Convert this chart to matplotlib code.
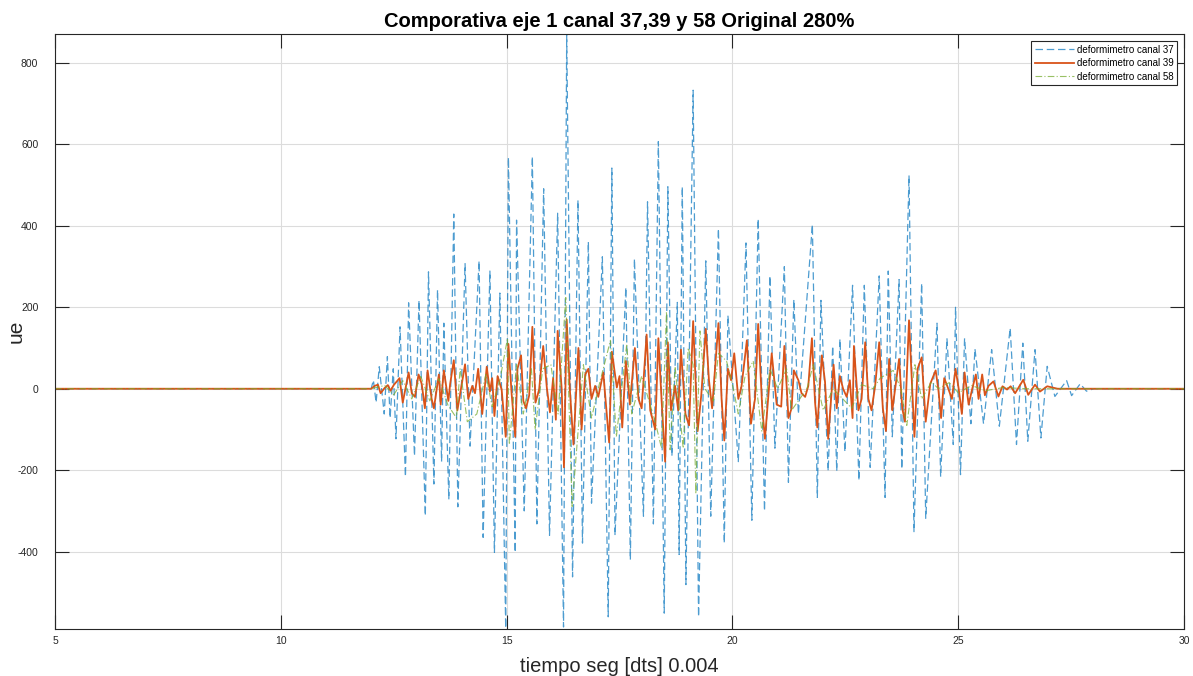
import matplotlib
matplotlib.use("Agg")
import matplotlib.pyplot as plt

plt.rcParams['font.family'] = ['Liberation Sans', 'DejaVu Sans']
plt.rcParams['axes.unicode_minus'] = False

# Strain readings (microstrain) per channel: time [s] and value at each turning point
t37 = [5.0, 12.0, 12.05, 12.11, 12.18, 12.29, 12.36, 12.42, 12.49, 12.55, 12.64, 12.76, 12.83, 12.96,
       13.06, 13.2, 13.27, 13.39, 13.47, 13.56, 13.61, 13.72, 13.83, 13.92, 14.08, 14.19, 14.39, 14.48,
       14.63, 14.73, 14.85, 14.98, 15.04, 15.19, 15.22, 15.39, 15.57, 15.67, 15.82, 15.95, 16.13, 16.26,
       16.33, 16.46, 16.58, 16.68, 16.81, 16.88, 17.12, 17.25, 17.33, 17.4, 17.64, 17.74, 17.83, 18.03,
       18.12, 18.25, 18.36, 18.49, 18.57, 18.66, 18.78, 18.82, 18.89, 18.97, 19.13, 19.25, 19.41, 19.52,
       19.69, 19.82, 19.9, 20.13, 20.3, 20.43, 20.57, 20.71, 20.83, 20.94, 21.15, 21.24, 21.36, 21.46,
       21.77, 21.88, 21.96, 22.12, 22.22, 22.31, 22.38, 22.49, 22.66, 22.8, 22.92, 23.05, 23.25, 23.38,
       23.45, 23.54, 23.69, 23.75, 23.91, 24.02, 24.19, 24.28, 24.53, 24.61, 24.75, 24.89, 24.94, 25.05,
       25.14, 25.28, 25.37, 25.56, 25.74, 25.91, 26.15, 26.29, 26.43, 26.54, 26.7, 26.83, 26.97, 27.14,
       27.4, 27.51, 27.7, 27.84, 28.0, 30.0]
v37 = [0, 0, 21, -34, 54, -62, 79, -72, 49, -123, 152, -216, 211, -165,
       217, -312, 287, -234, 243, -179, 161, -272, 429, -290, 307, -141, 314, -365,
       289, -402, 235, -588, 568, -402, 414, -300, 570, -332, 491, -360, 431, -585,
       868, -462, 463, -379, 361, -281, 324, -560, 542, -360, 249, -420, 319, -313,
       459, -332, 607, -551, 496, -165, 212, -407, 496, -481, 733, -560, 314, -313,
       393, -379, 180, -179, 358, -323, 417, -300, 277, -146, 300, -230, 219, -62,
       403, -267, 217, -202, 105, -202, 122, -155, 254, -225, 254, -193, 277, -267,
       289, -118, 268, -197, 524, -351, 259, -318, 161, -216, 124, -137, 200, -211,
       124, -86, 98, -86, 96, -92, 149, -137, 112, -129, 96, -121, 55, -19,
       20, -17, 12, -6, 0, 0]

t39 = [5.0, 12.0, 12.08, 12.15, 12.21, 12.3, 12.37, 12.43, 12.5, 12.63, 12.7, 12.83, 12.9, 12.97,
       13.05, 13.12, 13.19, 13.25, 13.34, 13.39, 13.5, 13.54, 13.61, 13.71, 13.75, 13.83, 13.91, 14.08,
       14.15, 14.24, 14.3, 14.37, 14.46, 14.56, 14.63, 14.68, 14.73, 14.8, 14.89, 14.98, 15.04, 15.11,
       15.19, 15.24, 15.32, 15.37, 15.43, 15.5, 15.57, 15.64, 15.72, 15.81, 15.89, 15.96, 16.03, 16.09,
       16.13, 16.22, 16.27, 16.33, 16.4, 16.48, 16.59, 16.66, 16.74, 16.81, 16.88, 16.96, 17.03, 17.14,
       17.27, 17.33, 17.44, 17.5, 17.56, 17.64, 17.73, 17.84, 17.92, 17.99, 18.1, 18.18, 18.29, 18.36,
       18.43, 18.51, 18.57, 18.64, 18.73, 18.8, 18.86, 18.96, 19.04, 19.13, 19.23, 19.31, 19.41, 19.48,
       19.55, 19.69, 19.76, 19.82, 19.9, 19.97, 20.04, 20.13, 20.2, 20.32, 20.41, 20.5, 20.57, 20.66,
       20.72, 20.8, 20.87, 20.98, 21.08, 21.15, 21.24, 21.31, 21.36, 21.46, 21.53, 21.61, 21.68, 21.76,
       21.83, 21.88, 21.98, 22.05, 22.12, 22.24, 22.31, 22.38, 22.45, 22.53, 22.6, 22.66, 22.69, 22.79,
       22.86, 22.94, 23.01, 23.08, 23.16, 23.25, 23.33, 23.4, 23.47, 23.54, 23.6, 23.69, 23.76, 23.82,
       23.91, 24.03, 24.1, 24.19, 24.28, 24.38, 24.5, 24.56, 24.62, 24.69, 24.78, 24.86, 24.94, 25.01,
       25.08, 25.14, 25.23, 25.31, 25.39, 25.45, 25.53, 25.59, 25.67, 25.78, 25.89, 25.98, 26.08, 26.16,
       26.26, 26.44, 26.55, 26.7, 26.81, 26.97, 27.2, 30.0]
v39 = [0, 0, 7, 10, -11, 2, 9, -5, 9, 26, -34, 40, -11, -20,
       35, 12, -48, 45, -25, -48, 35, -39, 45, -30, 12, 70, -53, 60,
       -25, 7, -11, 49, -62, 54, -7, 26, -67, 31, -2, -118, 110, -11,
       -118, 49, 82, -30, -48, -16, 152, -34, -2, 105, 3, -58, 26, -76,
       142, -2, -193, 170, -2, -137, 100, -100, 35, 49, -25, 7, -20, 40,
       -132, 91, 3, 31, -95, 68, -39, 100, -25, -48, 133, -53, -100, 124,
       -25, -179, 114, -53, 7, -53, 96, -62, -90, 166, -104, -16, 147, 21,
       -48, 161, -25, -127, 49, 21, 87, -25, 5, 119, -86, -25, 159, -48,
       -123, -11, 87, -39, -44, 105, -72, -48, 45, 21, -11, -20, 7, 124,
       -34, -95, 82, 17, -123, 59, -48, 31, 0, -20, 21, -72, 105, -53,
       -25, 114, -25, -53, 7, 114, -48, -104, 73, -53, -2, 73, -48, -81,
       168, -118, 49, 77, -81, 12, 45, -2, -72, 26, 0, -25, 49, 0,
       -62, 40, -39, 0, 35, -25, 35, -16, 7, 18, -19, 6, -2, 6,
       -11, 22, -15, 10, -7, 6, 0, 0]

t58 = [5.0, 12.0, 12.3, 12.5, 12.7, 12.9, 13.1, 13.3, 13.5, 13.7, 13.89, 13.97, 14.13, 14.34, 14.54,
       14.68, 14.85, 15.02, 15.06, 15.22, 15.37, 15.55, 15.63, 15.8, 15.98, 16.14, 16.31, 16.45, 16.7,
       16.88, 17.05, 17.3, 17.43, 17.66, 17.77, 17.99, 18.29, 18.43, 18.54, 18.62, 18.73, 18.91, 19.02,
       19.13, 19.19, 19.28, 19.39, 19.58, 19.69, 19.87, 20.02, 20.13, 20.28, 20.46, 20.65, 20.83, 21.0,
       21.2, 21.31, 21.65, 21.79, 22.01, 22.23, 22.64, 22.86, 23.12, 23.27, 23.56, 23.73, 23.86, 24.04,
       24.19, 24.41, 24.56, 24.8, 25.0, 25.3, 25.6, 26.0, 26.5, 30.0]
v58 = [0, 0, 8, -15, 20, -25, 30, -30, 25, -40, -72, 49, -81, -62, 35,
       -44, 20, 124, -137, 59, -62, 49, -100, 49, 59, -62, 224, -289, 59,
       -72, 10, 119, -118, 110, -62, 31, -81, -146, 189, -150, 54, -146, 100,
       59, -258, 142, 0, -30, 87, 68, 0, -62, 31, 68, -104, 49, 0,
       49, -53, 0, 59, -53, 0, -48, 10, 0, 26, 45, 0, -90, 59,
       -25, 17, 0, 15, -10, 8, -5, 3, 0, 0]

labels = ['deformimetro canal 37', 'deformimetro canal 39', 'deformimetro canal 58']
x_ticks = [5, 10, 15, 20, 25, 30]
y_ticks = [-400, -200, 0, 200, 400, 600, 800]

fig = plt.figure(figsize=(11.93, 6.76), dpi=100)
ax = fig.add_axes([0.0461, 0.0695, 0.9464, 0.8802])

ax.plot(t37, v37, linestyle=(0, (6, 3)), color='#0072BD', alpha=0.7, lw=0.9, label=labels[0])
ax.plot(t39, v39, linestyle='-', color='#D95319', lw=1.3, label=labels[1])
ax.plot(t58, v58, linestyle=(0, (6, 2, 1, 2)), color='#77AC30', alpha=0.75, lw=0.8, label=labels[2])

ax.set_xlim(5, 30)
ax.set_ylim(-590, 871)
ax.set_xticks(x_ticks)
ax.set_yticks(y_ticks)
ax.tick_params(direction='in', length=10, width=0.8, labelsize=7.5, colors='#262626',
               top=True, right=True)
ax.tick_params(axis='y', pad=12)
ax.tick_params(axis='x', pad=5)
ax.grid(True, color='#dcdcdc', lw=0.8)
ax.set_axisbelow(True)
for s in ax.spines.values():
    s.set_color('#262626')
    s.set_linewidth(0.8)

ax.set_title('Comporativa eje 1 canal 37,39 y 58 Original 280%', fontsize=14.5,
             fontweight='bold', pad=5)
ax.set_xlabel('tiempo seg [dts] 0.004', fontsize=14.5, color='#262626', labelpad=8)
ax.set_ylabel('ue', fontsize=15, color='#262626')
ax.yaxis.set_label_coords(-0.026, 0.5)

leg = ax.legend(loc='upper right', fontsize=7, frameon=True, fancybox=False,
                framealpha=1, edgecolor='#262626', handlelength=4.0, borderaxespad=0.7,
                borderpad=0.4, labelspacing=0.35, handletextpad=0.3)
leg.get_frame().set_linewidth(0.8)

fig.savefig('out.png', dpi=100)
